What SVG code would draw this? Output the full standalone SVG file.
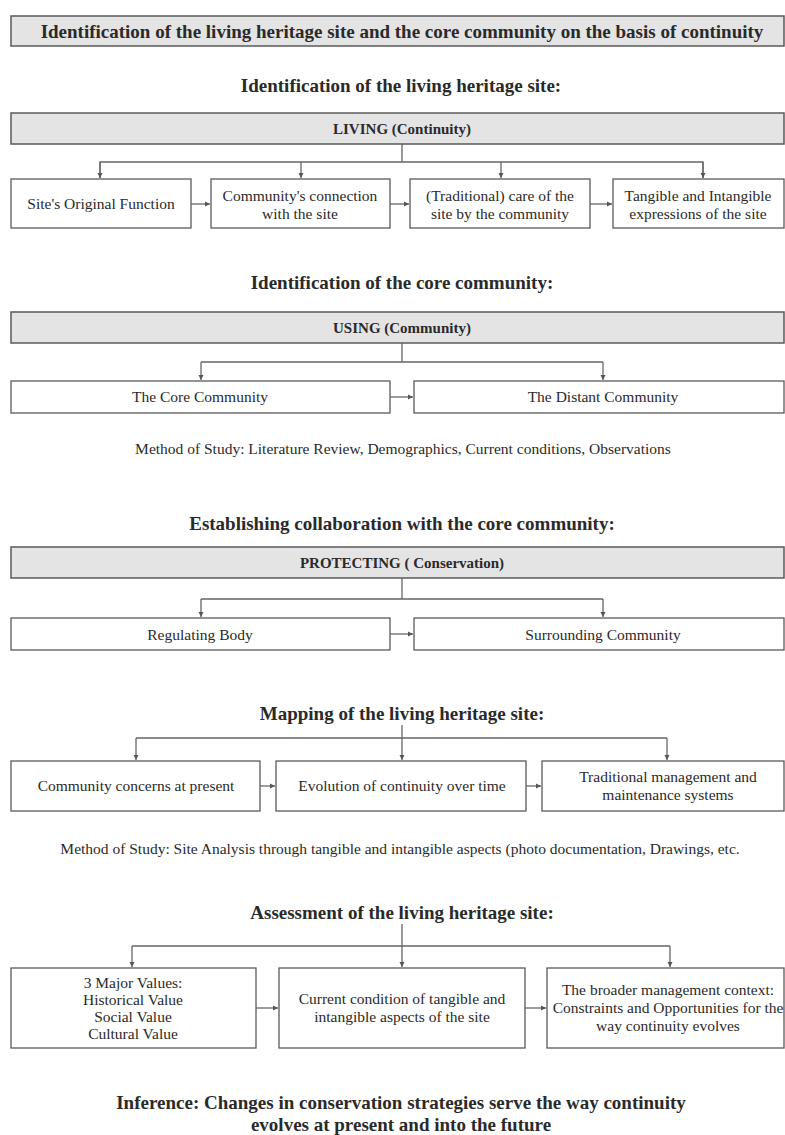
<svg xmlns="http://www.w3.org/2000/svg" width="785" height="1135" viewBox="0 0 785 1135">
<style>
text{font-family:"Liberation Serif","Times New Roman",serif;fill:#2a2a2a;text-anchor:middle}
.h{font-weight:bold;font-size:19px}
.hb{font-weight:bold;font-size:15px}
.t{font-size:15.5px}
.gbox{fill:#e4e4e4;stroke:#5a5a5a;stroke-width:1.5}
.box{fill:#fff;stroke:#5a5a5a;stroke-width:1.3}
.c{fill:none;stroke:#666;stroke-width:1.3}
</style>
<defs>
<marker id="ah" markerUnits="userSpaceOnUse" markerWidth="6" markerHeight="6" refX="5" refY="3" orient="auto">
<path d="M0,0.5 L5,3 L0,5.5 Z" fill="#555"/>
</marker>
</defs>
<rect width="785" height="1135" fill="#fff"/>

<g id="header">
<rect class="gbox" x="11" y="16" width="773" height="30"/>
<text class="h" x="402" y="38">Identification of the living heritage site and the core community on the basis of continuity</text>
</g>
<g id="title1"><text class="h" x="401" y="92">Identification of the living heritage site:</text></g>
<g id="living">
<rect class="gbox" x="11" y="113" width="773" height="31"/>
<text class="hb" x="402" y="134">LIVING (Continuity)</text>
</g>
<g id="l1"><rect class="box" x="11" y="179" width="180" height="49"/><text class="t" x="101" y="209">Site's Original Function</text></g>
<g id="l2"><rect class="box" x="211" y="179" width="179" height="49"/><text class="t" x="300" y="201">Community's connection</text><text class="t" x="300" y="219">with the site</text></g>
<g id="l3"><rect class="box" x="410" y="179" width="180" height="49"/><text class="t" x="500" y="201">(Traditional) care of the</text><text class="t" x="500" y="219">site by the community</text></g>
<g id="l4"><rect class="box" x="613" y="179" width="171" height="49"/><text class="t" x="698" y="201">Tangible and Intangible</text><text class="t" x="698" y="219">expressions of the site</text></g>

<g id="title2"><text class="h" x="402" y="289">Identification of the core community:</text></g>
<g id="using">
<rect class="gbox" x="11" y="312" width="773" height="31"/>
<text class="hb" x="402" y="333">USING (Community)</text>
</g>
<g id="u1"><rect class="box" x="11" y="381" width="379" height="32"/><text class="t" x="200" y="402">The Core Community</text></g>
<g id="u2"><rect class="box" x="414" y="381" width="370" height="32"/><text class="t" x="603" y="402">The Distant Community</text></g>
<g id="method1"><text class="t" x="403" y="454">Method of Study: Literature Review, Demographics, Current conditions, Observations</text></g>

<g id="title3"><text class="h" x="402" y="530">Establishing collaboration with the core community:</text></g>
<g id="protecting">
<rect class="gbox" x="11" y="547" width="773" height="31"/>
<text class="hb" x="402" y="568">PROTECTING ( Conservation)</text>
</g>
<g id="p1"><rect class="box" x="11" y="618" width="379" height="32"/><text class="t" x="200" y="640">Regulating Body</text></g>
<g id="p2"><rect class="box" x="414" y="618" width="370" height="32"/><text class="t" x="603" y="640">Surrounding Community</text></g>

<g id="title4"><text class="h" x="402" y="720">Mapping of the living heritage site:</text></g>
<g id="m1"><rect class="box" x="11" y="761" width="249" height="50"/><text class="t" x="136" y="791">Community concerns at present</text></g>
<g id="m2"><rect class="box" x="276" y="761" width="250" height="50"/><text class="t" x="402" y="791">Evolution of continuity over time</text></g>
<g id="m3"><rect class="box" x="542" y="761" width="242" height="50"/><text class="t" x="668" y="782">Traditional management and</text><text class="t" x="668" y="800">maintenance systems</text></g>
<g id="method2"><text class="t" x="400" y="854">Method of Study: Site Analysis through tangible and intangible aspects (photo documentation, Drawings, etc.</text></g>

<g id="title5"><text class="h" x="402" y="919">Assessment of the living heritage site:</text></g>
<g id="a1"><rect class="box" x="11" y="968" width="245" height="80"/>
<text class="t" x="133" y="988">3 Major Values:</text><text class="t" x="133" y="1005">Historical Value</text><text class="t" x="133" y="1022">Social Value</text><text class="t" x="133" y="1039">Cultural Value</text></g>
<g id="a2"><rect class="box" x="279" y="968" width="246" height="80"/>
<text class="t" x="402" y="1004">Current condition of tangible and</text><text class="t" x="402" y="1022">intangible aspects of the site</text></g>
<g id="a3"><rect class="box" x="547" y="968" width="237" height="80"/>
<text class="t" x="668" y="995">The broader management context:</text><text class="t" x="668" y="1013">Constraints and Opportunities for the</text><text class="t" x="668" y="1031">way continuity evolves</text></g>

<g id="inference">
<text class="h" x="401" y="1109">Inference: Changes in conservation strategies serve the way continuity</text>
<text class="h" x="401" y="1131">evolves at present and into the future</text>
</g>

<g id="connectors">
<path class="c" d="M402,144 V162 M100,178 V162 H703 V178"/>
<path class="c" d="M100,162 V178" marker-end="url(#ah)"/>
<path class="c" d="M301,162 V178" marker-end="url(#ah)"/>
<path class="c" d="M501,162 V178" marker-end="url(#ah)"/>
<path class="c" d="M703,162 V178" marker-end="url(#ah)"/>
<path class="c" d="M191,204 H210" marker-end="url(#ah)"/>
<path class="c" d="M390,204 H409" marker-end="url(#ah)"/>
<path class="c" d="M590,204 H612" marker-end="url(#ah)"/>

<path class="c" d="M402,343 V362 M201,362 H603"/>
<path class="c" d="M201,362 V380" marker-end="url(#ah)"/>
<path class="c" d="M603,362 V380" marker-end="url(#ah)"/>
<path class="c" d="M390,397 H413" marker-end="url(#ah)"/>

<path class="c" d="M402,578 V599 M201,599 H603"/>
<path class="c" d="M201,599 V617" marker-end="url(#ah)"/>
<path class="c" d="M603,599 V617" marker-end="url(#ah)"/>
<path class="c" d="M390,634 H413" marker-end="url(#ah)"/>

<path class="c" d="M402,725 V738 M136,738 H667"/>
<path class="c" d="M136,738 V760" marker-end="url(#ah)"/>
<path class="c" d="M402,738 V760" marker-end="url(#ah)"/>
<path class="c" d="M667,738 V760" marker-end="url(#ah)"/>
<path class="c" d="M260,786 H275" marker-end="url(#ah)"/>
<path class="c" d="M526,786 H541" marker-end="url(#ah)"/>

<path class="c" d="M402,924 V946 M132,946 H670"/>
<path class="c" d="M132,946 V967" marker-end="url(#ah)"/>
<path class="c" d="M402,946 V967" marker-end="url(#ah)"/>
<path class="c" d="M670,946 V967" marker-end="url(#ah)"/>
<path class="c" d="M256,1008 H278" marker-end="url(#ah)"/>
<path class="c" d="M525,1008 H546" marker-end="url(#ah)"/>
</g>
</svg>
